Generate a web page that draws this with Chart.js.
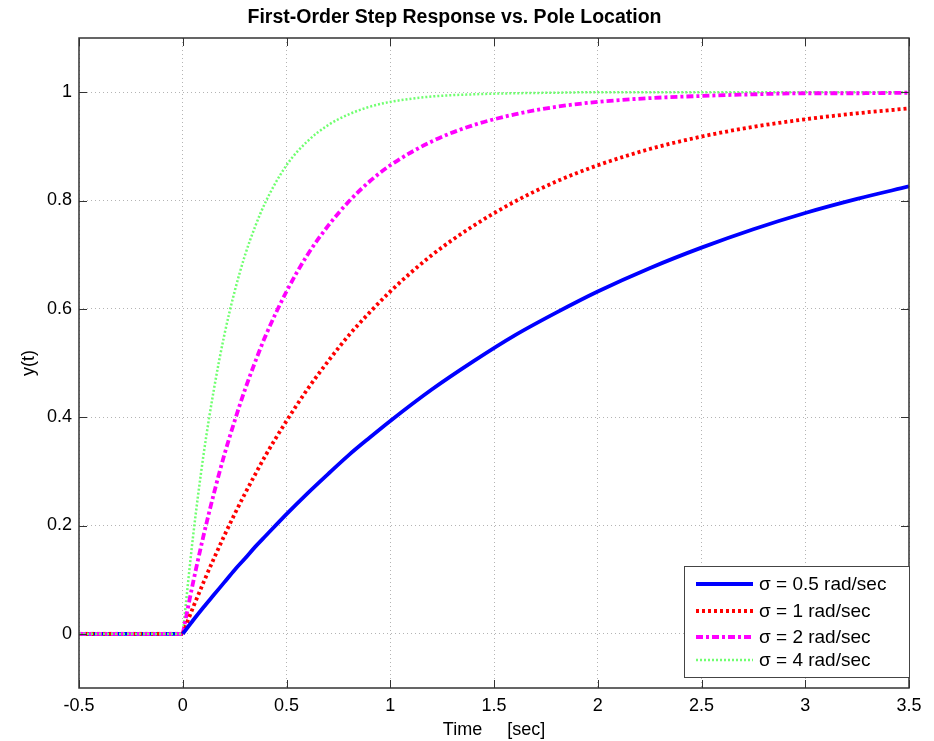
<!DOCTYPE html>
<html>
   <head>
      <title>First-Order Step Response vs. Pole Location</title>
      <style>
         body {
         margin: 0;
         background: #fff;
         }
         #wrap {
         width: 934px;
         height: 741px;
         }
      </style>
      <script src="https://cdn.jsdelivr.net/npm/chart.js"></script>
   </head>
   <body>
      <div id="wrap"><canvas id="step-chart" width="934" height="741"></canvas></div>
      <script>
         // time samples [sec] and readings for each pole location (t >= 0)
         const time = [0, 0.05, 0.1, 0.15, 0.2, 0.25, 0.3, 0.35, 0.4, 0.5, 0.6, 0.7, 0.8, 0.9, 1.0,
                       1.2, 1.4, 1.6, 1.8, 2.0, 2.25, 2.5, 2.75, 3.0, 3.25, 3.5];
         const ySigma05 = [0, 0.025, 0.049, 0.072, 0.095, 0.118, 0.139, 0.161, 0.181, 0.221, 0.259, 0.295, 0.33, 0.362, 0.393,
                           0.451, 0.503, 0.551, 0.593, 0.632, 0.675, 0.713, 0.747, 0.777, 0.803, 0.826];
         const ySigma1 = [0, 0.049, 0.095, 0.139, 0.181, 0.221, 0.259, 0.295, 0.33, 0.393, 0.451, 0.503, 0.551, 0.593, 0.632,
                          0.699, 0.753, 0.798, 0.835, 0.865, 0.895, 0.918, 0.936, 0.95, 0.961, 0.97];
         const ySigma2 = [0, 0.095, 0.181, 0.259, 0.33, 0.393, 0.451, 0.503, 0.551, 0.632, 0.699, 0.753, 0.798, 0.835, 0.865,
                          0.909, 0.939, 0.959, 0.973, 0.982, 0.989, 0.993, 0.996, 0.998, 0.998, 0.999];
         const ySigma4 = [0, 0.181, 0.33, 0.451, 0.551, 0.632, 0.699, 0.753, 0.798, 0.865, 0.909, 0.939, 0.959, 0.973, 0.982,
                          0.992, 0.996, 0.998, 0.999, 1, 1, 1, 1, 1, 1, 1];
         // before the step every output sits at zero
         const preTime = [-0.5, 0];
         const preY = [0, 0];
         const seriesLabels = ['\u03c3 = 0.5 rad/sec', '\u03c3 = 1 rad/sec', '\u03c3 = 2 rad/sec', '\u03c3 = 4 rad/sec'];
         const xTicks = [-0.5, 0, 0.5, 1, 1.5, 2, 2.5, 3, 3.5];
         const yTicks = [0, 0.2, 0.4, 0.6, 0.8, 1];

         const toPoints = (ts, ys) => ts.map((t, i) => ({ x: t, y: ys[i] }));
         const font = 'Arial, "Liberation Sans", sans-serif';

         const styles = [
           { borderColor: '#0000ff', borderWidth: 3.8, borderDash: [] },
           { borderColor: '#ff0000', borderWidth: 3.8, borderDash: [3, 3] },
           { borderColor: '#ff00ff', borderWidth: 3.8, borderDash: [7, 3, 3, 3] },
           { borderColor: '#70ff70', borderWidth: 2.5, borderDash: [2, 2] }
         ];
         const curves = [ySigma05, ySigma1, ySigma2, ySigma4].map((ys, i) =>
           Object.assign({ label: seriesLabels[i], data: toPoints(time, ys), cubicInterpolationMode: 'monotone' }, styles[i]));
         const flats = styles.map((s, i) =>
           Object.assign({ label: 'pre' + i, data: toPoints(preTime, preY) }, s)).reverse();

         // box round the axes, inward ticks and the legend inside the plot (matlab look)
         const matlabBox = {
           id: 'matlabBox',
           afterDatasetsDraw(chart) {
             const ctx = chart.ctx;
             const a = chart.chartArea;
             const xs = chart.scales.x;
             const ys = chart.scales.y;
             ctx.save();
             ctx.strokeStyle = '#333';
             ctx.lineWidth = 1;
             ctx.setLineDash([]);
             ctx.beginPath();
             xTicks.forEach(v => {
               const px = Math.round(xs.getPixelForValue(v)) + 0.5;
               ctx.moveTo(px, a.bottom); ctx.lineTo(px, a.bottom - 8);
               ctx.moveTo(px, a.top); ctx.lineTo(px, a.top + 8);
             });
             yTicks.forEach(v => {
               const py = Math.round(ys.getPixelForValue(v)) + 0.5;
               ctx.moveTo(a.left, py); ctx.lineTo(a.left + 8, py);
               ctx.moveTo(a.right, py); ctx.lineTo(a.right - 8, py);
             });
             ctx.stroke();
             ctx.lineWidth = 1.5;
             ctx.strokeRect(a.left, a.top, a.right - a.left, a.bottom - a.top);

             // legend
             const bx = 684, by = 566, bw = 225, bh = 111;
             ctx.fillStyle = '#fff';
             ctx.fillRect(bx, by, bw, bh);
             ctx.lineWidth = 1;
             ctx.strokeStyle = '#444';
             ctx.strokeRect(bx + 0.5, by + 0.5, bw, bh);
             const rows = [584, 611, 637, 660];
             curves.forEach((ds, i) => {
               ctx.beginPath();
               ctx.strokeStyle = ds.borderColor;
               ctx.lineWidth = ds.borderWidth;
               ctx.setLineDash(ds.borderDash);
               ctx.moveTo(696, rows[i]);
               ctx.lineTo(753, rows[i]);
               ctx.stroke();
               ctx.setLineDash([]);
               ctx.fillStyle = '#000';
               ctx.font = '19px ' + font;
               ctx.textBaseline = 'middle';
               ctx.fillText(ds.label, 759, rows[i] + 1);
             });
             ctx.restore();
           }
         };

         const fmt = v => String(v);

         new Chart(document.getElementById('step-chart'), {
           type: 'line',
           data: { datasets: curves.concat(flats) },
           options: {
             responsive: false,
             animation: false,
             elements: { point: { radius: 0 } },
             layout: { padding: { left: 0, right: 25, top: 0, bottom: 0 } },
             scales: {
               x: {
                 type: 'linear',
                 min: -0.5,
                 max: 3.5,
                 afterBuildTicks: s => { s.ticks = xTicks.map(v => ({ value: v })); },
                 afterFit: s => { s.height = 53; },
                 grid: { color: '#b4b4b4', drawTicks: false },
                 border: { display: false, dash: [1, 3] },
                 ticks: { color: '#000', font: { size: 18, family: font }, padding: 7, callback: fmt },
                 title: { display: true, text: 'Time     [sec]', color: '#000', font: { size: 18, family: font }, padding: { top: 0, bottom: 0 } }
               },
               y: {
                 min: -0.1,
                 max: 1.1,
                 afterBuildTicks: s => { s.ticks = yTicks.map(v => ({ value: v })); },
                 afterFit: s => { s.width = 79; },
                 grid: { color: '#b4b4b4', drawTicks: false },
                 border: { display: false, dash: [1, 3] },
                 ticks: { color: '#000', font: { size: 18, family: font }, padding: 7, callback: fmt },
                 title: { display: true, text: 'y(t)', color: '#000', font: { size: 18, family: font }, padding: { top: 18 } }
               }
             },
             plugins: {
               legend: { display: false },
               tooltip: { enabled: false },
               title: {
                 display: true,
                 text: 'First-Order Step Response vs. Pole Location',
                 color: '#000',
                 font: { size: 19.5, weight: 'bold', family: font },
                 padding: { top: 6, bottom: 8.6 }
               }
             }
           },
           plugins: [matlabBox]
         });
      </script>
</body>
</html>
